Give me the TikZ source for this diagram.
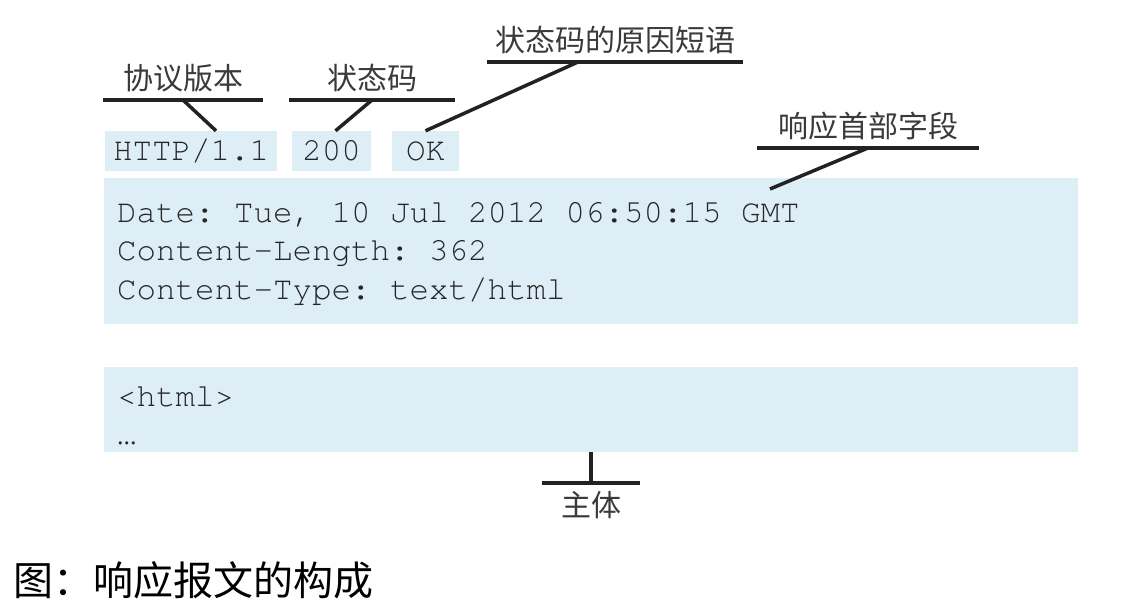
\documentclass[tikz,border=0pt]{standalone}
\usepackage{fontspec}
\setmonofont{texgyrecursor-regular.otf}
\newfontfamily\cjk{Noto Sans CJK SC}
\usetikzlibrary{positioning}
\definecolor{boxblue}{HTML}{DDEEF7}
\definecolor{textgray}{HTML}{3A3A3A}
\definecolor{codegray}{HTML}{262626}
\definecolor{linegray}{HTML}{222222}
\tikzset{
  field/.style={fill=boxblue,text=codegray,inner sep=0pt,font=\fontsize{32.5}{38.5}\selectfont\ttfamily},
  tag/.style={text=textgray,inner xsep=0pt,inner ysep=8pt,font=\fontsize{30}{30}\selectfont\cjk},
  lead/.style={linegray,line width=3.5pt},
}

\begin{document}
\begin{tikzpicture}[x=1pt,y=-1pt]
	\useasboundingbox (0,0) rectangle (1124,614);

	% status line
	\node[field,minimum width=172pt,minimum height=40pt] (version) at (191,151) {HTTP/1.1};
	\node[field,minimum width=79pt,minimum height=40pt] (code) at (331.5,151) {200};
	\node[field,minimum width=67pt,minimum height=40pt] (reason) at (425.5,151) {OK};

	% header fields and body
	\node[field,minimum width=974pt,minimum height=146pt,text width=948pt,align=flush left] (header) at (591,251) {\rule{0pt}{26pt}Date: Tue, 10 Jul 2012 06:50:15 GMT\\Content-Length: 362\\Content-Type: text/html};
	\node[field,minimum width=974pt,minimum height=85pt,text width=948pt,align=flush left] (body) at (591,409.5) {\rule{0pt}{32pt}<html>\\…};

	% labels
	\node[tag,anchor=south,minimum width=160pt] (versiontag) at (183,100) {协议版本};
	\node[tag,anchor=south,minimum width=166pt] (codetag) at (372,100) {状态码};
	\node[tag,anchor=south,minimum width=256pt] (reasontag) at (615,62) {状态码的原因短语};
	\node[tag,anchor=south,minimum width=222pt] (headertag) at (868,148) {响应首部字段};
	\node[tag,anchor=north,minimum width=97pt] (bodytag) at (591,483) {主体};
	\coordinate (gmt) at (770,189);

	% label lines
	\foreach \t in {versiontag,codetag,reasontag,headertag}
		\draw[lead] (\t.south west) -- (\t.south east);
	\draw[lead] (bodytag.north west) -- (bodytag.north east);

	% leaders
	\draw[lead] (versiontag.south) -- ([xshift=25pt]version.north);
	\draw[lead] (codetag.south) -- ([xshift=4pt]code.north);
	\draw[lead] ([xshift=-37pt]reasontag.south) -- (reason.north);
	\draw[lead] (headertag.south) -- (gmt);
	\draw[lead] (body.south) -- (bodytag.north);

	% caption
	\node[anchor=west,inner sep=0pt,font=\fontsize{40}{40}\selectfont\cjk] (caption) at (13,580) {图：响应报文的构成};
\end{tikzpicture}
\end{document}
